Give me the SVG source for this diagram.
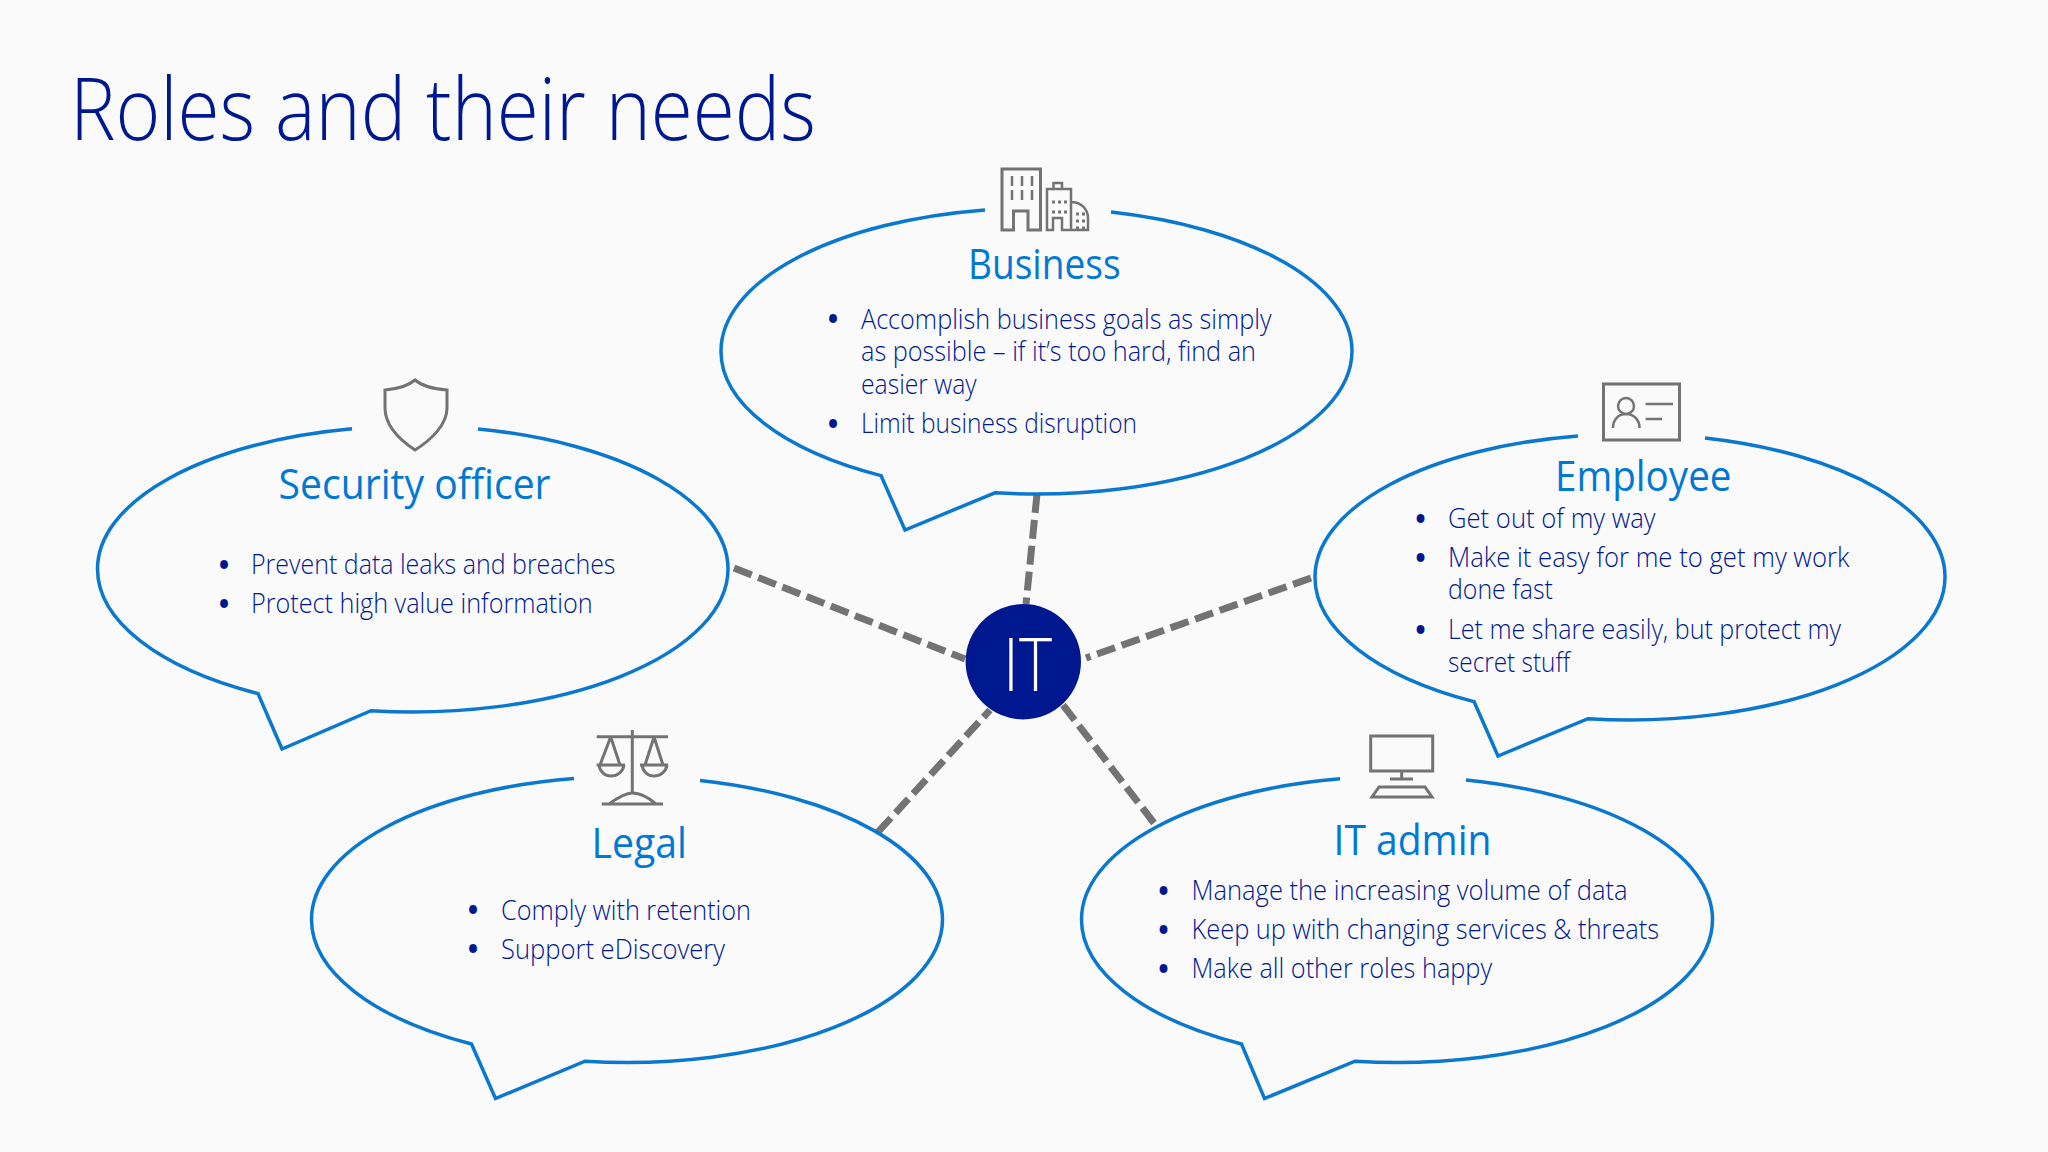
<svg xmlns="http://www.w3.org/2000/svg" width="2048" height="1152" viewBox="0 0 2048 1152">
<style>
text{font-family:"Open Sans","Noto Sans","Liberation Sans",sans-serif;font-weight:300}
.title{font-size:86px;fill:#00188f}
.head{font-size:42px;fill:#0078d4;font-weight:400}
.body{font-size:27px;fill:#00188f}
.bul{font-size:28px;fill:#00188f;font-weight:700;text-anchor:middle}
.bubble{fill:none;stroke:#0a78cf;stroke-width:3.500}
.icon{fill:none;stroke:#737373;stroke-width:3}
.thin{stroke-width:2.500}
.dots{stroke-width:3;stroke-dasharray:3 3}
.conn{stroke:#737373;stroke-width:7;stroke-dasharray:19 7;fill:none}
</style>
<rect width="2048" height="1152" fill="#fafafb"/>
<text class="title" x="70" y="140" textLength="746" lengthAdjust="spacingAndGlyphs">Roles and their needs</text>
<g id="connectors">
<path class="conn" d="M1037 494L1026 604"/>
<path class="conn" d="M734 568L965 659"/>
<path class="conn" d="M1311 578L1086 658"/>
<path class="conn" d="M878 832L990 710"/>
<path class="conn" d="M1154 823L1063 705"/>
</g>
<g id="it">
<circle cx="1023.300" cy="661.700" r="57.700" fill="#00188f"/>
<text x="1003" y="690.700" font-size="73" fill="#fff" textLength="49" lengthAdjust="spacingAndGlyphs">IT</text>
</g>
<g id="business">
<path class="bubble" transform="translate(0 1)" d="M1111 211A315.500 143 0 0 1 1352 350A315.500 143 0 0 1 995 491.800L905 529L881 474.600A315.500 143 0 0 1 721 350A315.500 143 0 0 1 985 208.900"/>
<g class="icon">
<path d="M1002 230V169H1040.500V230H1028V211H1013.500V230Z"/>
<path class="thin" d="M1012 176V186M1022 176V186M1032 176V186M1012 190V200M1022 190V200M1032 190V200"/>
<path class="thin" d="M1047 230V189H1071V230H1062V218H1053V230ZM1053.500 189V183H1062V189M1071 202C1081 202 1088 209 1088 218V230H1071"/>
<path class="dots" d="M1052 202H1067M1052 212H1067M1076 214H1085M1076 221H1085M1076 228H1085"/>
</g>
<text class="head" x="968" y="279" textLength="152.600" lengthAdjust="spacingAndGlyphs">Business</text>
<text class="bul" x="833" y="329">•</text>
<text class="body" x="861" y="328.500" textLength="410.600" lengthAdjust="spacingAndGlyphs">Accomplish business goals as simply</text>
<text class="body" x="861" y="361" textLength="395" lengthAdjust="spacingAndGlyphs">as possible – if it’s too hard, find an</text>
<text class="body" x="861" y="394" textLength="115.600" lengthAdjust="spacingAndGlyphs">easier way</text>
<text class="bul" x="833" y="433.500">•</text>
<text class="body" x="861" y="433" textLength="276" lengthAdjust="spacingAndGlyphs">Limit business disruption</text>
</g>
<g id="security">
<path class="bubble" transform="translate(0 1)" d="M478 428A315.500 143 0 0 1 728 568A315.500 143 0 0 1 371 709.700L282 748L258 692.600A315.500 143 0 0 1 97.500 568A315.500 143 0 0 1 352 427.700"/>
<path class="icon" d="M415 380C408 386 397 389 385 390V408C385 425 400 440 415 450C431 440 447 425 447 408V390C433 389 422 386 415 380Z"/>
<text class="head" x="278.600" y="499" textLength="272" lengthAdjust="spacingAndGlyphs">Security officer</text>
<text class="bul" x="224" y="574.500">•</text>
<text class="body" x="251" y="574" textLength="364.500" lengthAdjust="spacingAndGlyphs">Prevent data leaks and breaches</text>
<text class="bul" x="224" y="613.500">•</text>
<text class="body" x="251" y="613" textLength="341.600" lengthAdjust="spacingAndGlyphs">Protect high value information</text>
</g>
<g id="employee">
<path class="bubble" transform="translate(0 1)" d="M1705 437A315.500 143 0 0 1 1945 576A315.500 143 0 0 1 1588 717.700L1498 755L1474 700.600A315.500 143 0 0 1 1315 576A315.500 143 0 0 1 1578 435"/>
<g class="icon">
<rect x="1603.500" y="384" width="76" height="56"/>
<circle class="thin" cx="1626" cy="406" r="8"/>
<path class="thin" d="M1613 428C1613 419 1619 414 1626 414C1633 414 1639.500 419 1639.500 428M1645.600 404H1673M1645.600 419H1662"/>
</g>
<text class="head" x="1555" y="491" textLength="176.500" lengthAdjust="spacingAndGlyphs">Employee</text>
<text class="bul" x="1420.600" y="528.500">•</text>
<text class="body" x="1448" y="528" textLength="207.600" lengthAdjust="spacingAndGlyphs">Get out of my way</text>
<text class="bul" x="1420.600" y="567.500">•</text>
<text class="body" x="1448" y="567" textLength="401.400" lengthAdjust="spacingAndGlyphs">Make it easy for me to get my work</text>
<text class="body" x="1448" y="599" textLength="104.800" lengthAdjust="spacingAndGlyphs">done fast</text>
<text class="bul" x="1420.600" y="639.500">•</text>
<text class="body" x="1448" y="639" textLength="393" lengthAdjust="spacingAndGlyphs">Let me share easily, but protect my</text>
<text class="body" x="1448" y="672" textLength="122" lengthAdjust="spacingAndGlyphs">secret stuff</text>
</g>
<g id="legal">
<path class="bubble" transform="translate(0 1)" d="M700 779.400A315.500 143 0 0 1 942.500 918.500A315.500 143 0 0 1 585 1060.200L495.500 1097.500L471.500 1043A315.500 143 0 0 1 311.500 918.500A315.500 143 0 0 1 574 777.500"/>
<g class="icon">
<path d="M596.700 736.700H668M632.300 730V793M601.700 804H663M609 804C620 796 626 793 632.300 793C640 793 648 797 656 804"/>
<path d="M610.700 737L600 765M610.700 737L620 765M596.700 765H625M599 765C600 772 605 776 611 776C617 776 623 772 624 765"/>
<path d="M654 737L645 765M654 737L663 765M640 765H668M642 765C643 772 648 776 654 776C660 776 666 772 667 765"/>
</g>
<text class="head" x="591.600" y="858" textLength="95.400" lengthAdjust="spacingAndGlyphs">Legal</text>
<text class="bul" x="473" y="920">•</text>
<text class="body" x="501" y="919.600" textLength="250" lengthAdjust="spacingAndGlyphs">Comply with retention</text>
<text class="bul" x="473" y="959">•</text>
<text class="body" x="501" y="958.600" textLength="224" lengthAdjust="spacingAndGlyphs">Support eDiscovery</text>
</g>
<g id="itadmin">
<path class="bubble" transform="translate(0 1)" d="M1466 778.900A315.500 143 0 0 1 1712.500 918.500A315.500 143 0 0 1 1355 1060.200L1264.500 1097.500L1241.500 1043A315.500 143 0 0 1 1081.500 918.500A315.500 143 0 0 1 1340 777.800"/>
<g class="icon">
<rect x="1370.700" y="736" width="62" height="35"/>
<path d="M1401.700 771V779M1390 779H1413M1379 787H1425L1432 797H1372Z"/>
</g>
<text class="head" x="1333.500" y="855" textLength="158" lengthAdjust="spacingAndGlyphs">IT admin</text>
<text class="bul" x="1163.600" y="900.500">•</text>
<text class="body" x="1191.500" y="900" textLength="436" lengthAdjust="spacingAndGlyphs">Manage the increasing volume of data</text>
<text class="bul" x="1163.600" y="939.500">•</text>
<text class="body" x="1191.500" y="939" textLength="467.600" lengthAdjust="spacingAndGlyphs">Keep up with changing services &amp; threats</text>
<text class="bul" x="1163.600" y="978.500">•</text>
<text class="body" x="1191.500" y="978" textLength="300.500" lengthAdjust="spacingAndGlyphs">Make all other roles happy</text>
</g>
</svg>
